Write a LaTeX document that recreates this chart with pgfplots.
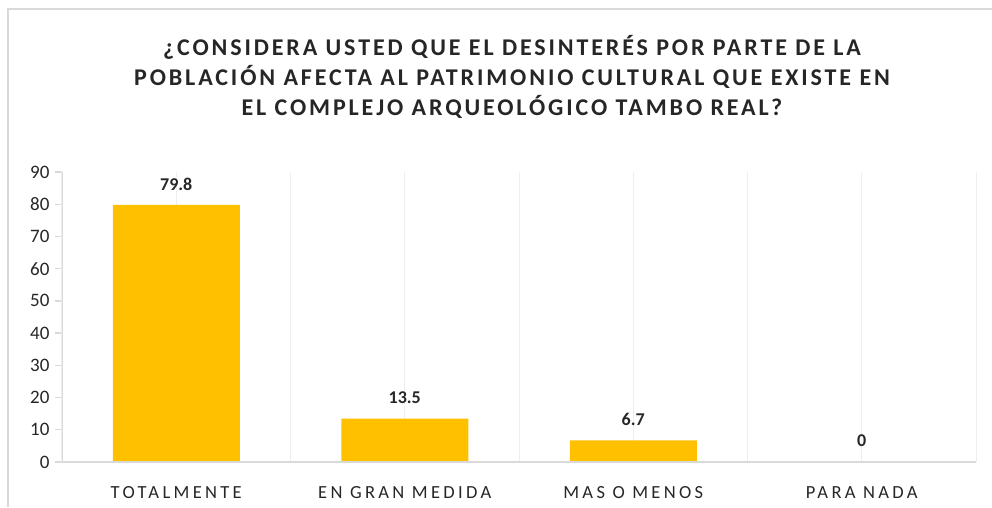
\documentclass[border=0pt]{standalone}
\usepackage{fontspec}
\setmainfont{Carlito}
\newfontfamily\spaced[LetterSpace=18]{Carlito}
\newfontfamily\titlespaced[LetterSpace=12]{Carlito}
\usepackage{pgfplots}
\pgfplotsset{compat=1.18}
\definecolor{barc}{HTML}{FFC000}
\definecolor{gridc}{HTML}{D9D9D9}
\definecolor{gridl}{HTML}{EEEEEE}
\definecolor{txt}{HTML}{262626}
\begin{document}
\begin{tikzpicture}[x=1pt,y=1pt]
\useasboundingbox (0,0) rectangle (992,507);
\draw[gridc, line width=1.5pt] (8,0) -- (8,498) -- (992,498);
\node[align=center, text=txt, font=\titlespaced\bfseries\fontsize{24}{30}\selectfont] at (512,430) {¿CONSIDERA USTED QUE EL DESINTERÉS POR PARTE DE LA\\POBLACIÓN AFECTA AL PATRIMONIO CULTURAL QUE EXISTE EN\\EL COMPLEJO ARQUEOLÓGICO TAMBO REAL?};
\begin{axis}[
  at={(62pt,45pt)}, anchor=south west,
  scale only axis, width=914pt, height=290pt,
  xmin=-0.5, xmax=3.5, ymin=0, ymax=90,
  ytick={0,10,...,90},
  xtick={0,1,2,3},
  xticklabels={TOTALMENTE, EN GRAN MEDIDA, MAS O MENOS, PARA NADA},
  xmajorgrids, major x grid style={gridl, line width=1pt},
  extra x ticks={-0.5,0.5,1.5,2.5,3.5},
  extra x tick labels={},
  extra x tick style={grid=major, major grid style={gridc, line width=1.3pt}, major tick length=0pt},
  axis x line*=bottom, axis y line*=left,
  axis line style={gridc, line width=1.3pt, -},
  x tick style={draw=none},
  y tick style={gridc, line width=1.3pt},
  tick align=outside, major tick length=7pt,
  xticklabel style={font=\spaced\fontsize{18.5}{20}\selectfont, text=txt, anchor=center, yshift=-24pt},
  yticklabel style={font=\fontsize{19}{20}\selectfont, text=txt, xshift=-2pt},
  /pgf/number format/assume math mode=true,
  ybar, bar width=127pt,
  nodes near coords,
  nodes near coords style={font=\bfseries\fontsize{18}{20}\selectfont, text=txt, anchor=center, yshift=21pt, /pgf/number format/fixed, /pgf/number format/precision=1},
  clip=false,
]
\addplot[fill=barc, draw=none] coordinates {(0,79.8) (1,13.5) (2,6.7) (3,0)};
\draw[gridc, line width=1.3pt] (axis cs:-0.5,0) -- (axis cs:3.5,0);
\end{axis}
\end{tikzpicture}
\end{document}
